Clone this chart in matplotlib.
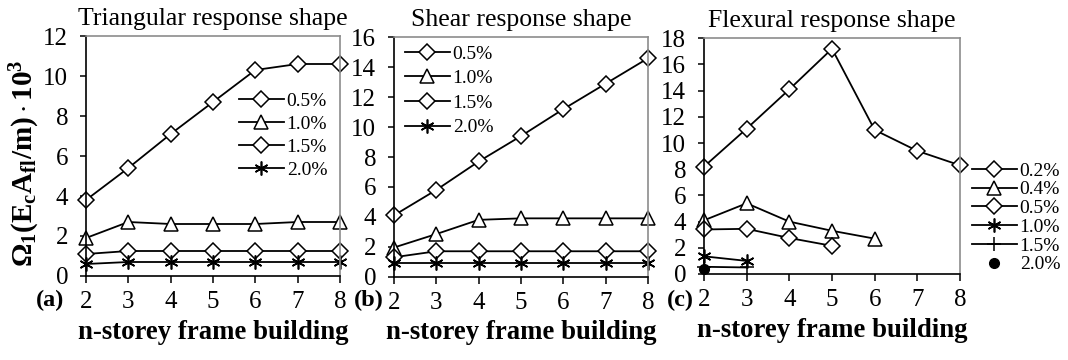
import matplotlib
matplotlib.use("Agg")
import matplotlib.pyplot as plt

plt.rcParams['font.family'] = ['Liberation Serif', 'DejaVu Serif']
plt.rcParams['mathtext.fontset'] = 'custom'
plt.rcParams['mathtext.rm'] = 'Liberation Serif'
plt.rcParams['mathtext.bf'] = 'Liberation Serif:bold'
plt.rcParams['mathtext.it'] = 'Liberation Serif:italic'

storeys = [2, 3, 4, 5, 6, 7, 8]

# (a) Triangular response shape
tri_labels = ['0.5%', '1.0%', '1.5%', '2.0%']
tri_05 = [3.8, 5.4, 7.1, 8.7, 10.3, 10.6, 10.6]
tri_10 = [1.9, 2.7, 2.6, 2.6, 2.6, 2.7, 2.7]
tri_15 = [1.1, 1.25, 1.25, 1.25, 1.25, 1.25, 1.25]
tri_20 = [0.6, 0.7, 0.7, 0.7, 0.7, 0.7, 0.7]

# (b) Shear response shape
she_labels = ['0.5%', '1.0%', '1.5%', '2.0%']
she_05 = [4.1, 5.8, 7.7, 9.4, 11.2, 12.9, 14.6]
she_10 = [1.95, 2.85, 3.8, 3.9, 3.9, 3.9, 3.9]
she_15 = [1.3, 1.7, 1.7, 1.7, 1.7, 1.7, 1.7]
she_20 = [0.9, 0.9, 0.9, 0.9, 0.9, 0.9, 0.9]

# (c) Flexural response shape
fle_labels = ['0.2%', '0.4%', '0.5%', '1.0%', '1.5%', '2.0%']
fle_02_x = [2, 3, 4, 5, 6, 7, 8]
fle_02 = [8.2, 11.1, 14.1, 17.2, 11.0, 9.4, 8.3]
fle_04_x = [2, 3, 4, 5, 6]
fle_04 = [4.1, 5.4, 4.0, 3.3, 2.7]
fle_05_x = [2, 3, 4, 5]
fle_05 = [3.4, 3.45, 2.75, 2.15]
fle_10_x = [2, 3]
fle_10 = [1.35, 1.0]
fle_15_x = [2, 3]
fle_15 = [0.55, 0.5]
fle_20_x = [2]
fle_20 = [0.4]

TICK_FS = 18
TITLE_FS = 18.5
XLAB_FS = 19.3
LEG_FS = 14

fig = plt.figure(figsize=(10.68, 3.6), dpi=100)

pos = [
    [86/1068, 84/360, 254/1068, 240/360],
    [394/1068, 83.3/360, 254/1068, 239.4/360],
    [704/1068, 86/360, 256/1068, 235.7/360],
]
axs = [fig.add_axes(p) for p in pos]

def style(ax, ymax, ystep, title, panel, px):
    ax.set_xlim(2, 8)
    ax.set_ylim(0, ymax)
    ax.set_xticks(storeys)
    ax.set_yticks(range(0, ymax + 1, ystep))
    for s in ['top', 'right']:
        ax.spines[s].set_color('#8c8c8c')
        ax.spines[s].set_linewidth(1.2)
    for s in ['left', 'bottom']:
        ax.spines[s].set_color('black')
        ax.spines[s].set_linewidth(1.2)
    ax.tick_params(axis='both', direction='out', width=1.1,
                   labelsize=TICK_FS, colors='black')
    ax.tick_params(axis='x', length=5, pad=6)
    ax.tick_params(axis='y', length=4.3, pad=8.5)
    ax.set_title(title, fontsize=TITLE_FS, pad=8)
    ax.set_xlabel('n-storey frame building', fontsize=XLAB_FS,
                  fontweight='bold', labelpad=4.5)
    bbox = ax.get_position()
    fig.text(px / 1068, 1 - 298 / 360, panel, fontsize=17.5,
             fontweight='bold', ha='right', va='center_baseline')

kw = dict(color='black', lw=1.3, mec='black', mfc='white', mew=1.1, clip_on=False)
D = dict(marker='D', ms=7.8)
T = dict(marker='^', ms=9.5)
S = dict(marker=(6, 2, 0), ms=10, mew=1.2)

ax = axs[0]
ax.plot(storeys, tri_05, label=tri_labels[0], **D, **kw)
ax.plot(storeys, tri_10, label=tri_labels[1], **T, **kw)
ax.plot(storeys, tri_15, label=tri_labels[2], **D, **kw)
ax.plot(storeys, tri_20, label=tri_labels[3], **{**kw, **S})
style(ax, 12, 2, 'Triangular response shape', '(a)', 64)
ax.legend(loc='upper left', bbox_to_anchor=(239/1068, 1 - 92/360),
          bbox_transform=fig.transFigure, frameon=False, fontsize=LEG_FS,
          handlelength=2.3, handletextpad=0.15, labelspacing=0.28,
          borderpad=0, borderaxespad=0)

ax = axs[1]
ax.plot(storeys, she_05, label=she_labels[0], **D, **kw)
ax.plot(storeys, she_10, label=she_labels[1], **T, **kw)
ax.plot(storeys, she_15, label=she_labels[2], **D, **kw)
ax.plot(storeys, she_20, label=she_labels[3], **{**kw, **S})
style(ax, 16, 2, 'Shear response shape', '(b)', 384)
ax.legend(loc='upper left', bbox_to_anchor=(405/1068, 1 - 45/360),
          bbox_transform=fig.transFigure, frameon=False, fontsize=LEG_FS,
          handlelength=2.3, handletextpad=0.15, labelspacing=0.36,
          borderpad=0, borderaxespad=0)

ax = axs[2]
ax.plot(fle_02_x, fle_02, label=fle_labels[0], **D, **kw)
ax.plot(fle_04_x, fle_04, label=fle_labels[1], **T, **kw)
ax.plot(fle_05_x, fle_05, label=fle_labels[2], **D, **kw)
ax.plot(fle_10_x, fle_10, label=fle_labels[3], **{**kw, **S})
ax.plot(fle_15_x, fle_15, label=fle_labels[4], marker='+', ms=10, **kw)
ax.plot(fle_20_x, fle_20, label=fle_labels[5], ls='none', marker='o', ms=7,
        color='black', mfc='black', mec='black', clip_on=False)
style(ax, 18, 2, 'Flexural response shape', '(c)', 694)
ax.legend(loc='upper left', bbox_to_anchor=(972/1068, 1 - 162/360),
          bbox_transform=fig.transFigure, frameon=False, fontsize=LEG_FS,
          handlelength=2.3, handletextpad=0.15, labelspacing=0.06,
          borderpad=0, borderaxespad=0)

fig.text(25/1068, 1 - 163/360, r'$\mathbf{\Omega_1(E_cA_{fl}/m)\cdot 10^3}$',
         rotation=90, ha='center', va='center', fontsize=21)

fig.savefig('out.png', dpi=100)
